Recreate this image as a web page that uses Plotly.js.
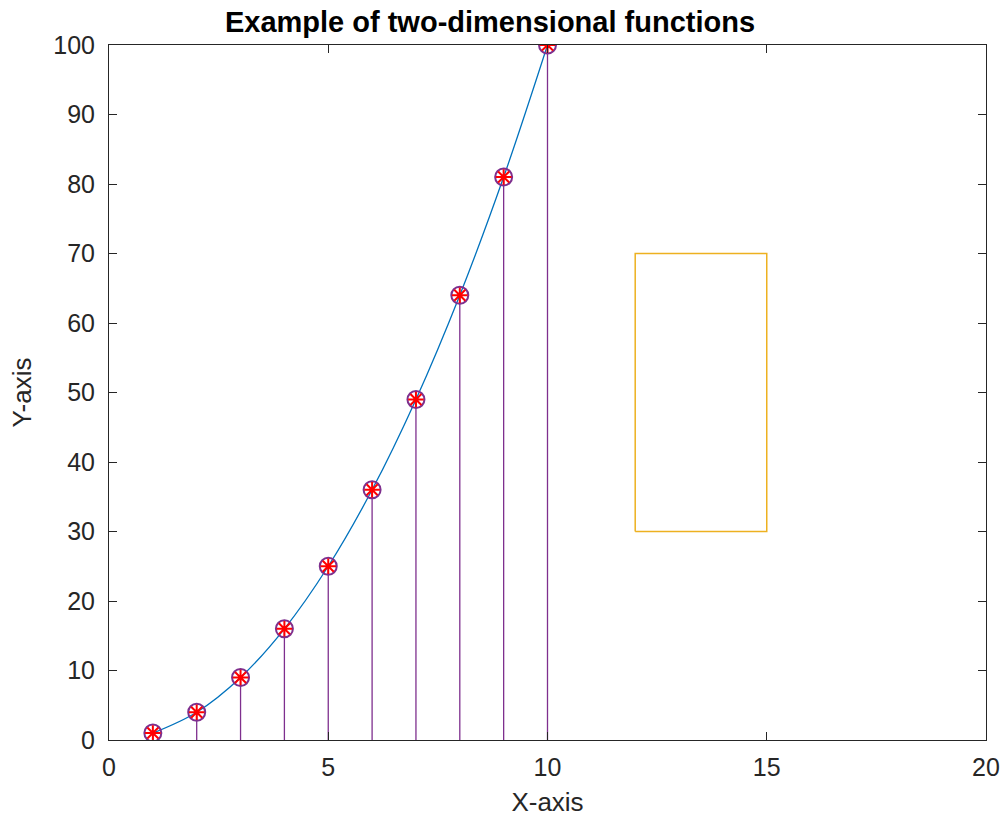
<!DOCTYPE html>
<html>
<head>
<meta charset="utf-8">
<script src="https://cdn.plot.ly/plotly-3.0.1.min.js"></script>
<style>html,body{margin:0;padding:0;background:#fff;}#chart{width:1003px;height:822px;}</style>
</head>
<body>
<div id="chart"></div>
<script>
// Data
const xValues = [1, 2, 3, 4, 5, 6, 7, 8, 9, 10];
const yValues = [1, 4, 9, 16, 25, 36, 49, 64, 81, 100];
const rectX = [12, 15, 15, 12, 12];
const rectY = [30, 30, 70, 70, 30];
const xTicks = [0, 5, 10, 15, 20];
const yTicks = [0, 10, 20, 30, 40, 50, 60, 70, 80, 90, 100];

// stems built from data
const stemX = [], stemY = [];
xValues.forEach((x, i) => { stemX.push(x, x, null); stemY.push(0, yValues[i], null); });

const axisColor = '#262626';
const font = 'Liberation Sans, Arial, sans-serif';

const traces = [
  { x: xValues, y: yValues, mode: 'lines', line: { color: '#0072BD', width: 1.3, shape: 'spline' }, hoverinfo: 'skip' },
  { x: stemX, y: stemY, mode: 'lines', line: { color: '#7E2F8E', width: 1.3 }, hoverinfo: 'skip' },
  { x: xValues, y: yValues, mode: 'markers', marker: { symbol: 'circle-open', size: 17, color: '#7E2F8E', line: { color: '#7E2F8E', width: 2 } } },
  { x: xValues, y: yValues, mode: 'markers', marker: { symbol: 'asterisk-open', size: 13, color: '#FF0000', line: { color: '#FF0000', width: 2 } } },
  { x: rectX, y: rectY, mode: 'lines', line: { color: '#EDB120', width: 1.5 }, hoverinfo: 'skip' }
];

const layout = {
  width: 1003, height: 822,
  paper_bgcolor: '#ffffff', plot_bgcolor: '#ffffff',
  showlegend: false,
  margin: { l: 109, r: 17, t: 45, b: 82 },
  title: { text: '<b>Example of two-dimensional functions</b>', font: { family: font, size: 29, color: '#000000' },
           x: 490/1003, xanchor: 'center', xref: 'container', y: 1 - 22/822, yanchor: 'middle', yref: 'container' },
  xaxis: {
    range: [0, 20], tickvals: xTicks, ticktext: xTicks.map(String),
    showgrid: false, zeroline: false, showline: true, linecolor: axisColor, linewidth: 1,
    mirror: 'ticks', ticks: 'inside', ticklen: 8, tickcolor: axisColor, tickwidth: 1,
    ticklabelstandoff: 5,
    tickfont: { family: font, size: 25, color: axisColor },
    title: { text: 'X-axis', font: { family: font, size: 26, color: axisColor }, standoff: 12 }
  },
  yaxis: {
    range: [0, 100], tickvals: yTicks, ticktext: yTicks.map(String),
    showgrid: false, zeroline: false, showline: true, linecolor: axisColor, linewidth: 1,
    mirror: 'ticks', ticks: 'inside', ticklen: 8, tickcolor: axisColor, tickwidth: 1,
    ticklabelstandoff: 8,
    tickfont: { family: font, size: 25, color: axisColor },
    title: { text: 'Y-axis', font: { family: font, size: 26, color: axisColor }, standoff: 14 }
  }
};

Plotly.newPlot('chart', traces, layout, { displayModeBar: false, staticPlot: true });
</script>
</body>
</html>
